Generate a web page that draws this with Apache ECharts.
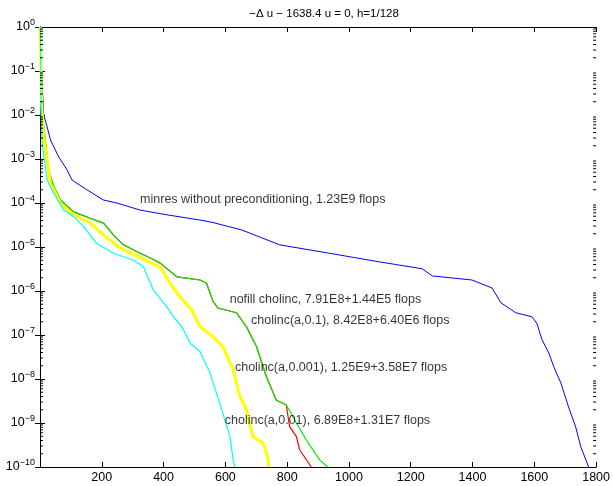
<!DOCTYPE html>
<html><head><meta charset="utf-8">
<script src="https://cdn.jsdelivr.net/npm/echarts@6/dist/echarts.min.js"></script>
<style>html,body{margin:0;padding:0;background:#fff}#c{width:613px;height:486px}</style>
</head><body><div id="c"></div>
<script>
var titleText = '\u2212\u0394 u \u2212 1638.4 u = 0, h=1/128';
var xTicks = [0, 200, 400, 600, 800, 1000, 1200, 1400, 1600, 1800];

var minresData = [[1,1],[5,0.06],[7,0.048],[12,1.0e-2],[23,5.4e-3],[34,2.7e-3],[61,1.1e-3],[88,5.6e-4],[104,3.3e-4],[152,2.0e-4],[205,1.17e-4],[249,1.0e-4],[324,6.9e-5],[410,5.4e-5],[518,4.1e-5],[560,3.6e-5],[652,2.45e-5],[776,1.12e-5],[937,7.2e-6],[1098,4.6e-6],[1237,3.2e-6],[1270,2.2e-6],[1398,1.78e-6],[1463,1.17e-6],[1492,5.4e-7],[1540,3.2e-7],[1592,2.6e-7],[1608,1.86e-7],[1625,7.8e-8],[1647,3.9e-8],[1663,1.9e-8],[1686,8.1e-9],[1711,2.3e-9],[1734,8.1e-10],[1751,2.8e-10],[1776,1.0e-10]];
var nofillData = [[1,1],[5,0.02],[12,5.4e-3],[28,5.6e-4],[45,2.3e-4],[66,1.17e-4],[109,6.3e-5],[163,4.5e-5],[206,3.5e-5],[238,1.86e-5],[270,1.12e-5],[313,7.9e-6],[362,5.4e-6],[389,4.3e-6],[443,2.1e-6],[518,1.78e-6],[539,1.5e-6],[560,5.8e-7],[576,4.1e-7],[636,3.2e-7],[668,1.55e-7],[701,5.4e-8],[733,1.12e-8],[765,3.3e-9],[797,2.6e-9],[808,8.3e-10],[830,4.9e-10],[840,2.5e-10],[878,1.0e-10]];
var chol01Data = [[1,1],[5,0.02],[12,5.4e-3],[28,5.6e-4],[45,2.3e-4],[66,1.17e-4],[109,6.3e-5],[163,4.5e-5],[206,3.5e-5],[238,1.86e-5],[270,1.12e-5],[313,7.9e-6],[362,5.4e-6],[389,4.3e-6],[443,2.1e-6],[518,1.78e-6],[539,1.5e-6],[560,5.8e-7],[576,4.1e-7],[636,3.2e-7],[668,1.55e-7],[701,5.4e-8],[733,1.12e-8],[765,3.3e-9],[797,2.6e-9],[830,1.0e-9],[862,4.1e-10],[905,1.45e-10],[931,1.0e-10]];
var chol0001Data = [[1,1],[5,0.02],[12,3.2e-3],[34,2.8e-4],[66,1.0e-4],[109,5.4e-5],[163,3.5e-5],[206,1.86e-5],[260,9.5e-6],[324,5.8e-6],[389,3.5e-6],[421,1.5e-6],[453,7.4e-7],[491,3.7e-7],[518,1.55e-7],[560,9.1e-8],[592,5.4e-8],[625,1.6e-8],[647,4.0e-9],[668,2.0e-9],[689,4.9e-10],[722,3.5e-10],[737,1.7e-10],[740,1.0e-10]];
var chol001Data = [[1,1],[4,0.01],[7,2.3e-3],[23,3.3e-4],[45,1.66e-4],[77,6.9e-5],[109,4.9e-5],[141,2.9e-5],[184,1.2e-5],[238,7.2e-6],[303,5.0e-6],[335,3.5e-6],[367,1.05e-6],[410,4.4e-7],[432,2.6e-7],[459,1.55e-7],[486,6.5e-8],[518,4.2e-8],[550,1.38e-8],[582,2.8e-9],[615,4.9e-10],[625,1.45e-10],[631,1.0e-10]];

var annotations = [
  {text: 'minres without preconditioning, 1.23E9 flops', x: 324, y: 1.17e-4},
  {text: 'nofill cholinc, 7.91E8+1.44E5 flops', x: 614, y: 6.3e-7},
  {text: 'cholinc(a,0.1), 8.42E8+6.40E6 flops', x: 683, y: 2.1e-7},
  {text: 'cholinc(a,0.001), 1.25E9+3.58E7 flops', x: 631, y: 1.8e-8},
  {text: 'cholinc(a,0.01), 6.89E8+1.31E7 flops', x: 598, y: 1.12e-9}
];

var minorTickValues = [];
for (var k = -10; k < 0; k++) {
  for (var m = 2; m <= 9; m++) minorTickValues.push([0, m * Math.pow(10, k)]);
}

var FONT = 'Liberation Sans, Arial, sans-serif';
var chart = echarts.init(document.getElementById('c'));

function lineSeries(name, data, color, width) {
  return {name: name, type: 'line', data: data, showSymbol: false, symbol: 'none',
    lineStyle: {color: color, width: width}, animation: false, z: 3};
}

var option = {
  animation: false,
  backgroundColor: '#fff',
  title: {text: titleText, left: 319, top: 3, textAlign: 'center',
    textStyle: {fontFamily: FONT, fontSize: 11.5, fontWeight: 'normal', color: '#000'}},
  grid: {left: 40, right: 15, top: 27, bottom: 19, containLabel: false},
  xAxis: [
    {type: 'value', min: 0, max: 1800, interval: 200, position: 'bottom',
      axisLine: {lineStyle: {color: '#000', width: 1}},
      axisTick: {inside: true, length: 5, lineStyle: {color: '#000'}},
      axisLabel: {fontFamily: FONT, fontSize: 12.5, color: '#000', margin: 4,
        formatter: function (v) { return v === 0 ? '' : String(v); }},
      splitLine: {show: false}},
    {type: 'value', min: 0, max: 1800, interval: 200, position: 'top',
      axisLine: {lineStyle: {color: '#000', width: 1}},
      axisTick: {inside: true, length: 5, lineStyle: {color: '#000'}},
      axisLabel: {show: false}, splitLine: {show: false}}
  ],
  yAxis: [
    {type: 'log', logBase: 10, min: 1e-10, max: 1, interval: 1, position: 'left',
      axisLine: {lineStyle: {color: '#000', width: 1}},
      axisTick: {inside: true, length: 5, lineStyle: {color: '#000'}},
      axisLabel: {color: '#000', margin: 5, showMinLabel: true, showMaxLabel: true, hideOverlap: false,
        formatter: function (v) {
          var e = Math.round(Math.log10(v));
          return '{b|10}{s|' + (e < 0 ? '\u2212' + (-e) : e) + '}';
        },
        rich: {
          b: {fontFamily: FONT, fontSize: 12.5, color: '#000'},
          s: {fontFamily: FONT, fontSize: 9, color: '#000', padding: [0, 0, 9, 0]}
        }},
      splitLine: {show: false}},
    {type: 'log', logBase: 10, min: 1e-10, max: 1, interval: 1, position: 'right',
      axisLine: {lineStyle: {color: '#000', width: 1}},
      axisTick: {inside: true, length: 5, lineStyle: {color: '#000'}},
      axisLabel: {show: false}, splitLine: {show: false}}
  ],
  series: [
    lineSeries('minres', minresData, '#0000ff', 1),
    lineSeries('nofill', nofillData, '#ff0000', 1.2),
    lineSeries('chol01', chol01Data, '#00ee00', 1.2),
    lineSeries('chol0001', chol0001Data, '#ffff00', 3),
    lineSeries('chol001', chol001Data, '#00ffff', 1.2),
    {type: 'custom', data: minorTickValues, clip: false, z: 5, silent: true,
      renderItem: function (params, api) {
        var y = api.coord([0, api.value(1)])[1];
        var cs = params.coordSys;
        return {type: 'group', children: [
          {type: 'line', shape: {x1: cs.x, y1: y, x2: cs.x + 3, y2: y}, style: {stroke: '#000', lineWidth: 1}},
          {type: 'line', shape: {x1: cs.x + cs.width, y1: y, x2: cs.x + cs.width - 3, y2: y}, style: {stroke: '#000', lineWidth: 1}}
        ]};
      }},
    {type: 'scatter', symbolSize: 0, silent: true, z: 6,
      data: annotations.map(function (a) { return {value: [a.x, a.y], name: a.text}; }),
      label: {show: true, position: 'right', distance: 0, formatter: '{b}',
        fontFamily: FONT, fontSize: 12.5, color: '#000'}}
  ]
};
chart.setOption(option);
</script></body></html>
